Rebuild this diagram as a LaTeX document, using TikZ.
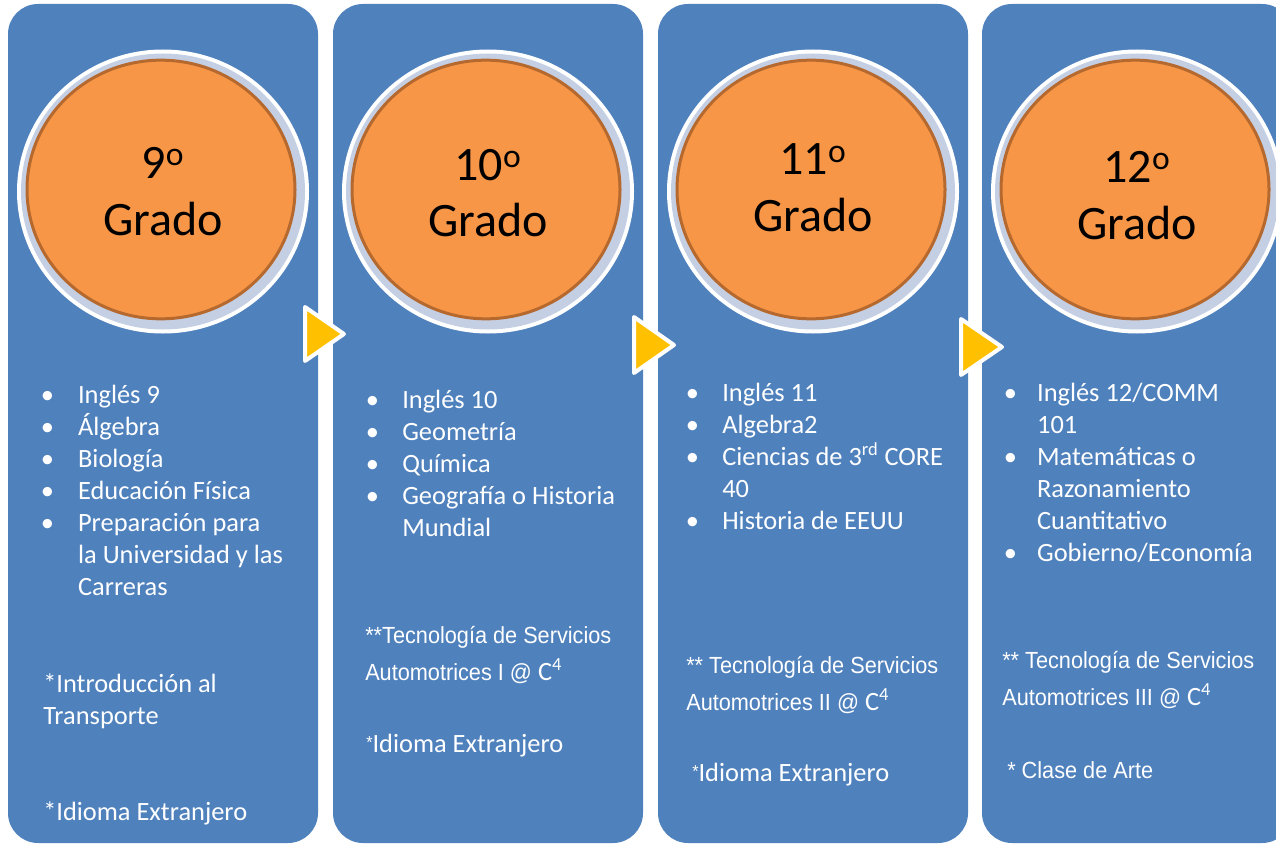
\documentclass[tikz,border=0pt]{standalone}
\usepackage{fontspec}
\setmainfont{Carlito}
\newfontfamily\arialn[FakeStretch=0.93]{Liberation Sans}
\newfontfamily\carl{Carlito}
\definecolor{pblue}{HTML}{4F81BD}
\definecolor{porange}{HTML}{F79646}
\definecolor{pbrown}{HTML}{B5692F}
\definecolor{pring}{HTML}{C4CFE3}
\definecolor{pyellow}{HTML}{FFC000}
\newlength\bhang
\newcommand\bl{\makebox[\bhang][l]{\textbullet}}
\newcommand\hg{\hspace*{\bhang}}
\newcommand\cfour{{\carl\fontsize{19.8}{24}\selectfont C\textsuperscript{4}}}
\newcommand\smstar{\raisebox{2.5pt}{\arialn\fontsize{13}{14}\selectfont *}}
\begin{document}
\begin{tikzpicture}[x=0.75pt,y=-0.75pt,
  panel/.style={fill=pblue, rounded corners=22.5pt, minimum width=232.5pt, minimum height=629.25pt, inner sep=0pt, outer sep=0pt},
  gradetext/.style={anchor=base, text width=150pt, align=center, inner sep=0pt, font=\fontsize{36}{42.75}\selectfont},
  blist/.style={anchor=base west, inner sep=0pt, text=white, font=\fontsize{19.8}{24}\selectfont},
  anote/.style={anchor=base west, inner sep=0pt, text=white, font=\arialn\fontsize{17.5}{28}\selectfont},
  cnote/.style={anchor=base west, inner sep=0pt, text=white, font=\fontsize{19.8}{24}\selectfont},
  tri/.style={fill=pyellow, draw=white, line width=3pt, line join=round}]
\useasboundingbox (0,0) rectangle (1276,845);
\clip (0,0) rectangle (1276,845);
% panels
\node[panel] (p1) at (163,423.5) {};
\node[panel] (p2) at (488,423.5) {};
\node[panel] (p3) at (813,423.5) {};
\node[panel] (p4) at (1137,423.5) {};
% grade circles
\foreach \cx/\n/\lab/\by in {163/1/9/178, 488/2/10/180, 813/3/11/175, 1137/4/12/182}{
  \fill[white] (\cx,191.5) ellipse [x radius=109.5pt, y radius=106.5pt];
  \fill[pring] (\cx,191.5) ellipse [x radius=106.5pt, y radius=103.5pt];
  \filldraw[fill=porange, draw=pbrown, line width=2.25pt] (\cx-2,189.5) ellipse [x radius=100.5pt, y radius=97pt];
  \node[gradetext] (g\n) at (\cx,\by) {\lab\textsuperscript{o}\\Grado};
}
% panel 1
\node[blist] (l1) at (40.5,403) {\setlength\bhang{28pt}%
  \begin{tabular}[t]{@{}l@{}}
  \bl Inglés 9\\
  \bl Álgebra\\
  \bl Biología\\
  \bl Educación Física\\
  \bl Preparación para\\
  \hg la Universidad y las\\
  \hg Carreras
  \end{tabular}};
\node[cnote] (n1a) at (43,692) {\begin{tabular}[t]{@{}l@{}}*Introducción al\\Transporte\end{tabular}};
\node[cnote] (n1b) at (43,820) {*Idioma Extranjero};
% panel 2
\node[blist] (l2) at (365.5,408) {\setlength\bhang{27.4pt}%
  \begin{tabular}[t]{@{}l@{}}
  \bl Inglés 10\\
  \bl Geometría\\
  \bl Química\\
  \bl Geografía o Historia\\
  \hg Mundial
  \end{tabular}};
\node[anote] (n2a) at (365,643) {\begin{tabular}[t]{@{}l@{}}**Tecnología de Servicios\\Automotrices I @ \cfour\end{tabular}};
\node[cnote] (n2b) at (366,752) {\smstar Idioma Extranjero};
% panel 3
\node[blist] (l3) at (685.5,401) {\setlength\bhang{27.4pt}%
  \begin{tabular}[t]{@{}l@{}}
  \bl Inglés 11\\
  \bl Algebra2\\
  \bl Ciencias de 3\textsuperscript{rd} CORE\\
  \hg 40\\
  \bl Historia de EEUU
  \end{tabular}};
\node[anote] (n3a) at (686,673) {\begin{tabular}[t]{@{}l@{}}** Tecnología de Servicios\\Automotrices II @ \cfour\end{tabular}};
\node[cnote] (n3b) at (692,781) {\smstar Idioma Extranjero};
% panel 4
\node[blist] (l4) at (1003.5,401) {\setlength\bhang{25pt}%
  \begin{tabular}[t]{@{}l@{}}
  \bl Inglés 12/COMM\\
  \hg 101\\
  \bl Matemáticas o\\
  \hg Razonamiento\\
  \hg Cuantitativo\\
  \bl Gobierno/Economía
  \end{tabular}};
\node[anote] (n4a) at (1002,668) {\begin{tabular}[t]{@{}l@{}}** Tecnología de Servicios\\Automotrices III @ \cfour\end{tabular}};
\node[anote] (n4b) at (1007,778) {* Clase de Arte};
% arrows between panels
\draw[tri] (305,307) -- (305,361) -- (344,334) -- cycle;
\draw[tri] (634,317) -- (634,373) -- (674,345) -- cycle;
\draw[tri] (961,319) -- (961,375) -- (1002,347) -- cycle;
\end{tikzpicture}
\end{document}
